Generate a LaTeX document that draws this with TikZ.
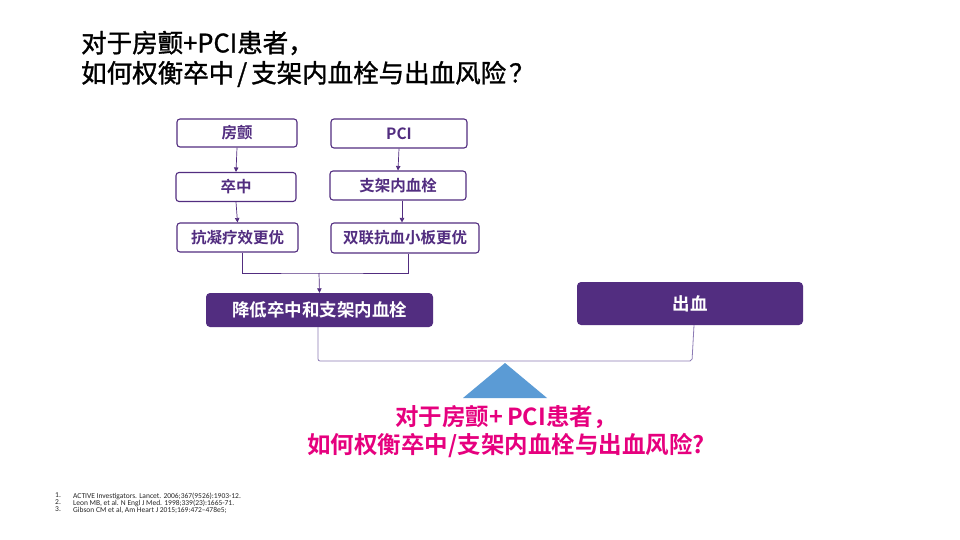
\documentclass[tikz,border=0pt]{standalone}
\usepackage{fontspec}
\setmainfont{Carlito}
\newfontfamily\cjk{Noto Sans CJK SC}
\newfontfamily\cjkt[FakeBold=1.2]{Noto Sans CJK SC}
\newfontfamily\cjkb{Noto Sans CJK SC Bold}
\usetikzlibrary{arrows.meta}
\definecolor{pur}{HTML}{522D80}
\definecolor{linep}{HTML}{8C7BB5}
\definecolor{mag}{HTML}{E6007E}
\definecolor{tri}{HTML}{5B9BD5}
\begin{document}
\begin{tikzpicture}[x=1pt,y=-1pt,
  obox/.style={draw=pur,line width=1.1pt,fill=white,rounded corners=3pt,text=pur,font=\cjkb\fontsize{15.5}{17}\selectfont,inner sep=0pt},
  fbox/.style={fill=pur,rounded corners=4pt,text=white,font=\cjkb\fontsize{17.5}{19}\selectfont,inner sep=0pt},
  arr/.style={draw=pur,line width=0.7pt,-{Triangle[length=4.5pt,width=4.5pt]}},
  ln/.style={draw=pur,line width=0.6pt},
  lever/.style={draw=linep,line width=0.8pt,rounded corners=2pt},
  ttl/.style={anchor=west,font=\cjkt\fontsize{25.5}{28}\selectfont,text=black,inner sep=0pt}]
\useasboundingbox (0,0) rectangle (960,540);
\fill[white] (0,0) rectangle (960,540);
% title
\node[ttl] (t1) at (81,43) {对于房颤+PCI患者，};
\node[ttl] (t2) at (81,74) {如何权衡卒中\kern3pt/\kern4pt支架内血栓与出血风险\kern3pt？};
% left column
\node[obox,minimum width=120pt,minimum height=28pt] (af) at (237,133) {房颤};
\node[obox,minimum width=120pt,minimum height=29pt] (st) at (236,187) {卒中};
\node[obox,minimum width=121pt,minimum height=29pt] (ac) at (237.5,237.5) {抗凝疗效更优};
% right column
\node[obox,minimum width=136pt,minimum height=29pt] (pci) at (399,133.5) {PCI};
\node[obox,minimum width=136pt,minimum height=29pt] (sti) at (398,185.5) {支架内血栓};
\node[obox,minimum width=148pt,minimum height=30pt] (da) at (405,238) {双联抗血小板更优};
\draw[arr] (af.south) -- (st.north);
\draw[arr] (st.south) -- (ac.north);
\draw[arr] (pci.south) -- (sti.north);
\draw[arr] ([xshift=4pt]sti.south) -- ([xshift=-3pt]da.north);
% merge
\node[fbox,minimum width=227pt,minimum height=34pt] (red) at (319.5,310) {降低卒中和支架内血栓};
\node[fbox,minimum width=226pt,minimum height=43pt] (bl) at (690,303.5) {出血};
\coordinate (m) at (319,273);
\draw[ln] ([xshift=5pt]ac.south) |- (m) -| ([xshift=3pt]da.south);
\draw[arr] (m) -- (red.north);
% lever
\draw[lever] ([xshift=-1.5pt]red.south) -- (318,361) -- (692,361) -- ([xshift=4pt]bl.south);
% fulcrum
\fill[tri] (505,363) -- (547,398) -- (463,398) -- cycle;
% question
\node[align=center,text=mag,font=\cjkb\fontsize{23.5}{28}\selectfont,inner sep=0pt] (q) at (506,432) {对于房颤+\,PCI患者，\\如何权衡卒中/支架内血栓与出血风险?};
% references
\node[anchor=north west,font=\fontsize{7.5}{7}\selectfont,text=black!85,align=left,inner sep=0pt] (r) at (55,492.5) {1.\\2.\\3.};
\node[anchor=north west,font=\fontsize{7.5}{7}\selectfont,text=black!85,align=left,inner sep=0pt] (rt) at (73,492.5) {ACTIVE Investigators. Lancet. 2006;367(9526):1903-12.\\Leon MB, et al. N Engl J Med. 1998;339(23):1665-71.\\Gibson CM et al, Am Heart J 2015;169:472--478e5;};
\end{tikzpicture}
\end{document}
